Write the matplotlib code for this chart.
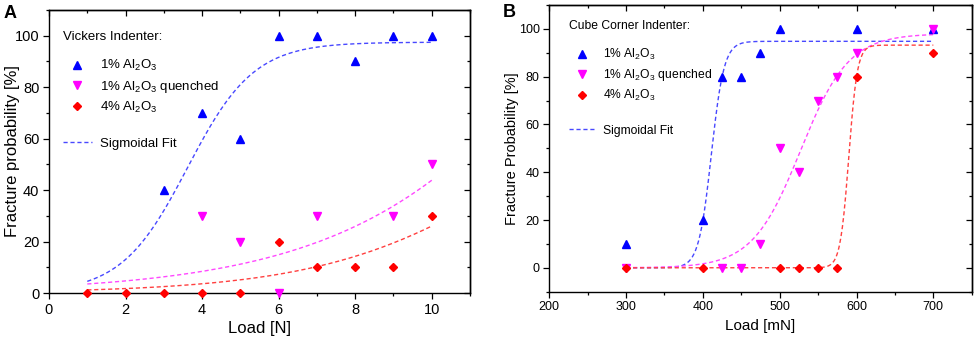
import matplotlib

matplotlib.use("Agg")

import matplotlib.pyplot as plt  # noqa: E402
import numpy as np  # noqa: E402
from matplotlib.lines import Line2D  # noqa: E402
from matplotlib.ticker import MultipleLocator, NullFormatter  # noqa: E402

plt.rcParams["font.family"] = ["Liberation Sans", "DejaVu Sans"]
plt.rcParams["mathtext.fontset"] = "custom"
plt.rcParams["mathtext.rm"] = "Liberation Sans"
plt.rcParams["mathtext.it"] = "Liberation Sans"

# --- Panel A: Vickers indenter, load in N ---
a_blue_x = [3, 4, 5, 6, 7, 8, 9, 10]
a_blue_y = [40, 70, 60, 100, 100, 90, 100, 100]
a_mag_x = [4, 5, 6, 7, 9, 10]
a_mag_y = [30, 20, 0, 30, 30, 50]
a_red_x = [1, 2, 3, 4, 5, 6, 7, 8, 9, 10]
a_red_y = [0, 0, 0, 0, 0, 20, 10, 10, 10, 30]
# Boltzmann fit parameters: A1, A2, x0, dx
a_blue_fit = [0, 97.5, 3.62, 0.867]
a_mag_fit = [0, 300, 15.95, 3.37]
a_red_fit = [0, 100, 12.79, 2.67]

# --- Panel B: cube corner indenter, load in mN ---
b_blue_x = [300, 400, 425, 450, 475, 500, 600, 700]
b_blue_y = [10, 20, 80, 80, 90, 100, 100, 100]
b_mag_x = [300, 425, 450, 475, 500, 525, 550, 575, 600, 700]
b_mag_y = [0, 0, 0, 10, 50, 40, 70, 80, 90, 100]
b_red_x = [300, 400, 500, 525, 550, 575, 600, 700]
b_red_y = [0, 0, 0, 0, 0, 0, 80, 90]
b_blue_fit = [0, 94.8, 411, 8.3]
b_mag_fit = [0, 98, 527, 31.4]
b_red_fit = [0, 93.2, 590, 5.6]

BLUE, MAG, RED = "#0000ff", "#ff00ff", "#ff0000"
BLUE_FIT, MAG_FIT, RED_FIT = "#4848ff", "#ff48ff", "#ff4040"


def boltzmann(x, p):
    a1, a2, x0, dx = p
    return a2 + (a1 - a2) / (1 + np.exp((x - x0) / dx))


def style_axes(ax, fs, xstep, ystep):
    ax.tick_params(which="both", direction="out", labelsize=fs, width=0.9,
                   pad=2.5)
    ax.tick_params(which="major", length=4.5)
    ax.tick_params(which="minor", length=2.5)
    for loc, sec in (("top", ax.secondary_xaxis("top")),
                     ("right", ax.secondary_yaxis("right"))):
        axis = sec.xaxis if loc == "top" else sec.yaxis
        step = xstep if loc == "top" else ystep
        axis.set_major_locator(MultipleLocator(step))
        axis.set_minor_locator(MultipleLocator(step / 2))
        axis.set_major_formatter(NullFormatter())
        sec.tick_params(which="both", direction="in", width=0.9)
        sec.tick_params(which="major", length=4.5)
        sec.tick_params(which="minor", length=2.5)
        sec.spines[loc].set_linewidth(1.0)
    for s in ax.spines.values():
        s.set_linewidth(1.0)


def draw_panel(ax, data, fits, xgrid, title, fs_leg, pad):
    (bx, by), (mx, my), (rx, ry) = data
    dash = dict(lw=1.0, dashes=(3, 2))
    ax.plot(xgrid, boltzmann(xgrid, fits[0]), color=BLUE_FIT, **dash)
    ax.plot(xgrid, boltzmann(xgrid, fits[1]), color=MAG_FIT, **dash)
    ax.plot(xgrid, boltzmann(xgrid, fits[2]), color=RED_FIT, **dash)
    ax.plot(bx, by, "^", color=BLUE, ms=5.5, ls="none", clip_on=False, zorder=5)
    ax.plot(mx, my, "v", color=MAG, ms=5.5, ls="none", clip_on=False, zorder=5)
    ax.plot(rx, ry, "D", color=RED, ms=4.3, ls="none", clip_on=False, zorder=6)

    handles = [
        Line2D([], [], marker="^", color=BLUE, ls="none", ms=5.5),
        Line2D([], [], marker="v", color=MAG, ls="none", ms=5.5),
        Line2D([], [], marker="D", color=RED, ls="none", ms=4.3),
        Line2D([], [], ls="none"),
        Line2D([], [], color=BLUE_FIT, **dash),
    ]
    labels = ["1% Al$_2$O$_3$", "1% Al$_2$O$_3$ quenched", "4% Al$_2$O$_3$",
              " ", "Sigmoidal Fit"]
    leg = ax.legend(handles, labels, loc="upper left", frameon=False,
                    title=title, alignment="left", fontsize=fs_leg,
                    title_fontsize=fs_leg, handlelength=2.2, handletextpad=0.6,
                    labelspacing=0.4, borderaxespad=0, bbox_to_anchor=pad)
    leg._legend_box.sep = 11


fig = plt.figure(figsize=(9.76, 3.38), dpi=100)

ax_a = fig.add_axes([0.0502, 0.1331, 0.4314, 0.8373])
draw_panel(ax_a,
           [(a_blue_x, a_blue_y), (a_mag_x, a_mag_y), (a_red_x, a_red_y)],
           [a_blue_fit, a_mag_fit, a_red_fit],
           np.linspace(1, 10, 200), "Vickers Indenter:", 9.5, (0.02, 0.945))
ax_a.set_xlim(0, 11)
ax_a.set_ylim(0, 110)
ax_a.xaxis.set_minor_locator(MultipleLocator(1))
ax_a.yaxis.set_minor_locator(MultipleLocator(10))
ax_a.set_xticks([0, 2, 4, 6, 8, 10])
ax_a.set_yticks([0, 20, 40, 60, 80, 100])
ax_a.set_xlabel("Load [N]", fontsize=12, labelpad=3)
ax_a.set_ylabel("Fracture probability [%]", fontsize=12)
ax_a.yaxis.set_label_coords(-0.068, 0.5)
style_axes(ax_a, 10.5, 2, 20)

ax_b = fig.add_axes([0.5628, 0.137, 0.4328, 0.8482])
draw_panel(ax_b,
           [(b_blue_x, b_blue_y), (b_mag_x, b_mag_y), (b_red_x, b_red_y)],
           [b_blue_fit, b_mag_fit, b_red_fit],
           np.linspace(300, 700, 400), "Cube Corner Indenter:", 8.7,
           (0.035, 0.965))
ax_b.set_xlim(200, 750)
ax_b.set_ylim(-10, 110)
ax_b.xaxis.set_minor_locator(MultipleLocator(50))
ax_b.yaxis.set_minor_locator(MultipleLocator(10))
ax_b.set_xticks([200, 300, 400, 500, 600, 700])
ax_b.set_yticks([0, 20, 40, 60, 80, 100])
ax_b.set_xlabel("Load [mN]", fontsize=11, labelpad=4)
ax_b.set_ylabel("Fracture Probability [%]", fontsize=10.5)
ax_b.yaxis.set_label_coords(-0.072, 0.5)
style_axes(ax_b, 9, 100, 20)

fig.text(0.004, 0.9615, "A", fontsize=13, fontweight="bold", va="center")
fig.text(0.515, 0.964, "B", fontsize=13, fontweight="bold", va="center")

fig.savefig("out.png", dpi=100)
